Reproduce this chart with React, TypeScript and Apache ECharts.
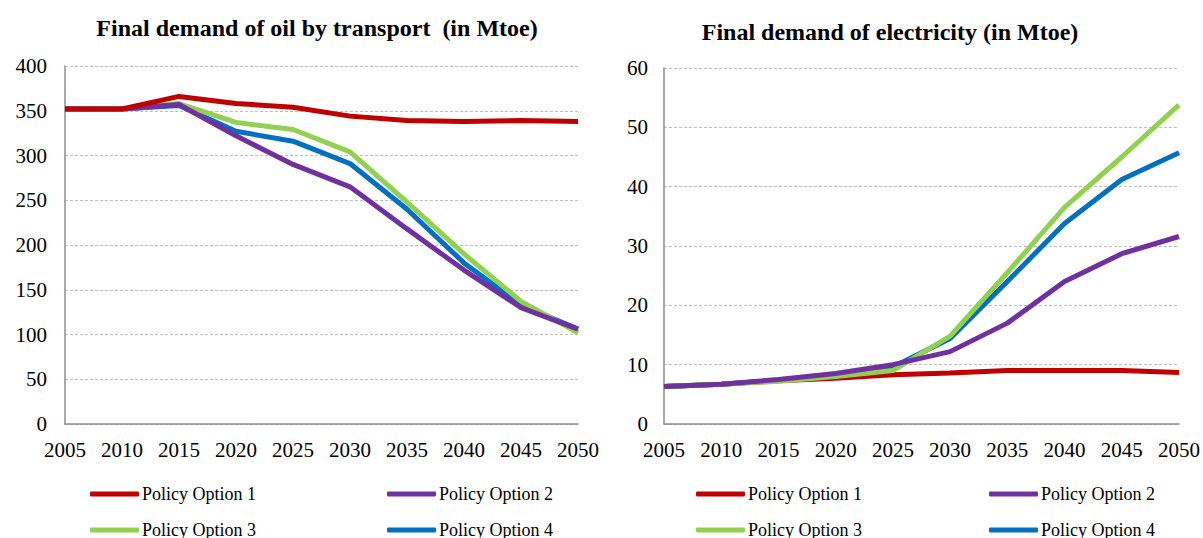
import React, { useEffect, useRef } from "react";
import * as echarts from "echarts";

const years = ["2005", "2010", "2015", "2020", "2025", "2030", "2035", "2040", "2045", "2050"];
const seriesNames = ["Policy Option 1", "Policy Option 2", "Policy Option 3", "Policy Option 4"];
const colors = ["#C00000", "#7030A0", "#92D050", "#0070C0"];

const oilOpt1 = [352, 352, 366, 358, 354, 344, 339, 338, 339, 338];
const oilOpt2 = [352, 352, 357, 322, 290, 265, 218, 172, 130, 106];
const oilOpt3 = [352, 352, 358, 337, 329, 304, 248, 190, 137, 102];
const oilOpt4 = [352, 352, 356, 327, 316, 291, 240, 180, 133, 106];

const elecOpt1 = [6.3, 6.7, 7.3, 7.7, 8.3, 8.6, 9.0, 9.0, 9.0, 8.7];
const elecOpt2 = [6.3, 6.7, 7.5, 8.5, 10.0, 12.2, 17.0, 24.0, 28.7, 31.6];
const elecOpt3 = [6.3, 6.7, 7.2, 8.0, 9.0, 14.8, 25.5, 36.5, 45.0, 53.8];
const elecOpt4 = [6.3, 6.7, 7.4, 8.3, 9.6, 14.4, 24.0, 33.8, 41.2, 45.7];

const oilTitle = "Final demand of oil by transport  (in Mtoe)";
const elecTitle = "Final demand of electricity (in Mtoe)";

const FONT = "'Liberation Serif', 'Times New Roman', serif";

export default function App() {
  const ref = useRef<HTMLDivElement>(null);
  useEffect(() => {
    if (!ref.current) return;
    const chart = echarts.init(ref.current, undefined, { renderer: "svg" });
    const oilData = [oilOpt1, oilOpt2, oilOpt3, oilOpt4];
    const elecData = [elecOpt1, elecOpt2, elecOpt3, elecOpt4];

    const xAxisCommon = (gridIndex: number) => ({
      type: "category",
      gridIndex,
      data: years,
      boundaryGap: false,
      axisLine: { show: true, lineStyle: { color: "#8C8C8C", width: 1.5 } },
      axisTick: { show: false },
      axisLabel: { color: "#000", fontFamily: FONT, fontSize: 21, margin: 15 },
      splitLine: { show: false },
    });
    const yAxisCommon = (gridIndex: number, max: number, interval: number, margin: number) => ({
      type: "value",
      gridIndex,
      min: 0,
      max,
      interval,
      axisLine: { show: true, lineStyle: { color: "#8C8C8C", width: 1.5 } },
      axisTick: { show: false },
      axisLabel: { color: "#000", fontFamily: FONT, fontSize: 21, margin },
      splitLine: { show: true, lineStyle: { color: "#BFBFBF", type: [3, 2], width: 1 } },
    });

    const series: any[] = [];
    seriesNames.forEach((name, i) => {
      series.push({
        name,
        type: "line",
        xAxisIndex: 0,
        yAxisIndex: 0,
        data: oilData[i],
        showSymbol: false,
        symbol: "none",
        lineStyle: { color: colors[i], width: 5 },
        itemStyle: { color: colors[i] },
        z: 10 - i,
      });
    });
    seriesNames.forEach((name, i) => {
      series.push({
        name,
        type: "line",
        xAxisIndex: 1,
        yAxisIndex: 1,
        data: elecData[i],
        showSymbol: false,
        symbol: "none",
        lineStyle: { color: colors[i], width: 5 },
        itemStyle: { color: colors[i] },
        z: i === 0 ? 5 : 10 - i,
      });
    });

    const legendPos = [
      [90, 485],
      [387, 485],
      [90, 521],
      [387, 521],
      [696, 485],
      [989, 485],
      [696, 521],
      [989, 521],
    ];
    const legends = legendPos.map((p, k) => ({
      show: true,
      left: p[0],
      top: p[1],
      data: [{ name: seriesNames[k % 4], icon: "roundRect" }],
      itemWidth: 49,
      itemHeight: 5,
      selectedMode: false,
      padding: 0,
      textStyle: { fontFamily: FONT, fontSize: 18, color: "#000", padding: [0, 0, 0, -2] },
    }));

    const titleStyle = {
      fontFamily: FONT,
      fontWeight: "bold",
      fontSize: 24,
      color: "#000",
    };

    chart.setOption({
      animation: false,
      backgroundColor: "#fff",
      title: [
        { text: oilTitle, left: 312, top: 11, textAlign: "center", textStyle: titleStyle },
        { text: elecTitle, left: 885, top: 15, textAlign: "center", textStyle: titleStyle },
      ],
      legend: legends,
      grid: [
        { left: 65, top: 66, width: 513, height: 358, containLabel: false },
        { left: 664, top: 68, width: 517, height: 356, containLabel: false },
      ],
      xAxis: [xAxisCommon(0), xAxisCommon(1)],
      yAxis: [yAxisCommon(0, 400, 50, 18), yAxisCommon(1, 60, 10, 16)],
      series,
    });
    return () => chart.dispose();
  }, []);
  return (
    <div
      ref={ref}
      style={{ position: "fixed", left: 0, top: 0, width: 1203, height: 538, background: "#fff" }}
    />
  );
}
